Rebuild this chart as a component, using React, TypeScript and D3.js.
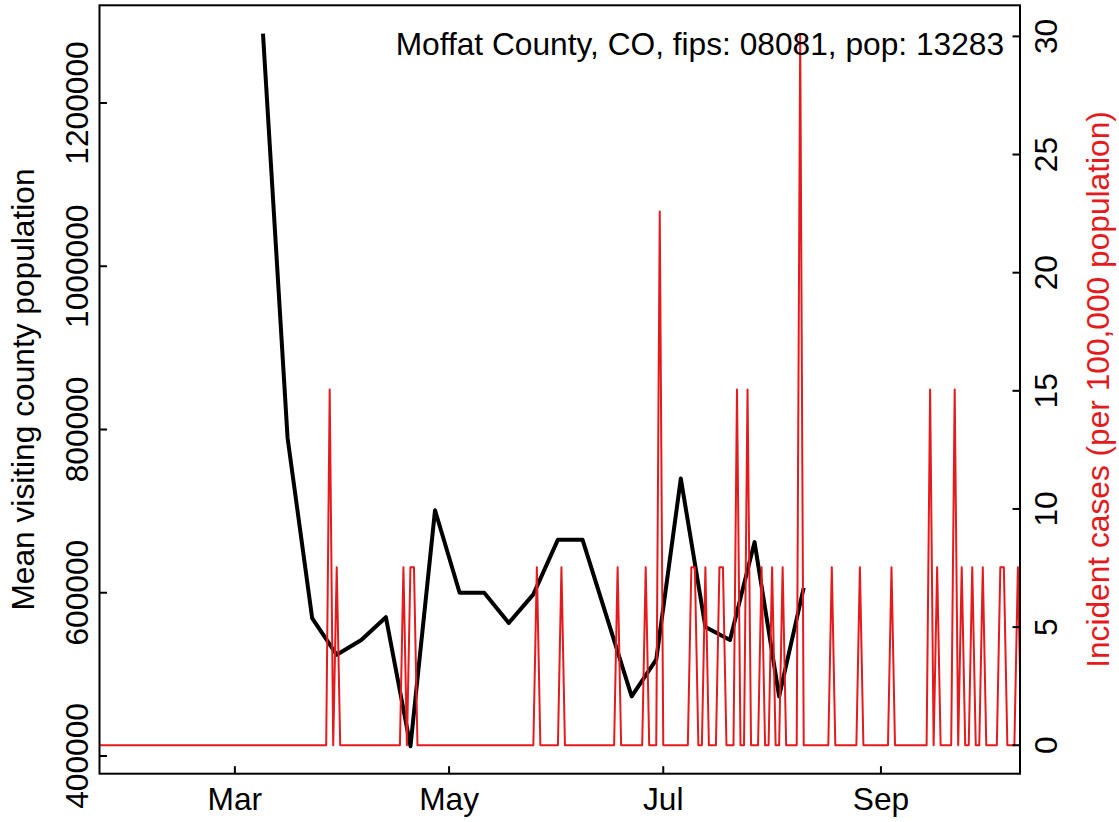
import React, { useEffect, useRef } from 'react';
import * as d3 from 'd3';

// weekly mean visiting county population (black line)
const visitWeeks = [
  "2020-03-09", "2020-03-16", "2020-03-23", "2020-03-30", "2020-04-06", "2020-04-13",
  "2020-04-20", "2020-04-27", "2020-05-04", "2020-05-11", "2020-05-18", "2020-05-25",
  "2020-06-01", "2020-06-08", "2020-06-22", "2020-06-29", "2020-07-06", "2020-07-13",
  "2020-07-20", "2020-07-27", "2020-08-03", "2020-08-10"
];
const visitPop = [
  1285000, 790000, 569000, 524000, 542000, 570000,
  412000, 701000, 600000, 600000, 563000, 598000,
  665000, 665000, 473000, 518000, 740000, 558000,
  542000, 662000, 473000, 606000
];

// daily incident case counts, one digit per day, starting 2020-01-22
const caseStart = "2020-01-22";
const dailyCases = [
  "0000000000",                       // Jan 22-31
  "00000000000000000000000000000",    // Feb
  "0000000000000000000000000002010",  // Mar
  "000000000000000001011000000000",   // Apr
  "0000000000000000000000000100000",  // May
  "010000000000000001000000010003",   // Jun
  "0000000011001000110002002000100",  // Jul
  "1001000040000000010000000100000",  // Aug
  "000100000000002010000201001001",   // Sep
  "00001100010"                       // Oct 1-11
].join("");
const population = 13283;

const leftTicks = [400000, 600000, 800000, 1000000, 1200000];
const rightTicks = [0, 5, 10, 15, 20, 25, 30];
const monthTicks = ["2020-03-01", "2020-05-01", "2020-07-01", "2020-09-01"];
const monthLabels = ["Mar", "May", "Jul", "Sep"];

const title = "Moffat County, CO, fips: 08081, pop: 13283";
const leftTitle = "Mean visiting county population";
const rightTitle = "Incident cases (per 100,000 population)";

const parse = d3.timeParse("%Y-%m-%d");

const App: React.FC = () => {
  const ref = useRef<SVGSVGElement | null>(null);

  useEffect(() => {
    if (!ref.current) return;
    const width = 1119;
    const height = 822;
    const box = { left: 99.5, right: 1020, top: 5.3, bottom: 773.7 };
    const red = "#e41a1c";
    const font = "'Liberation Sans', Arial, Helvetica, sans-serif";
    const fs = 31.7;
    const tick = 7.5;

    const svg = d3.select(ref.current)
      .attr("width", width)
      .attr("height", height);
    svg.selectAll("*").remove();

    const x = d3.scaleTime()
      .domain([new Date(2020, 0, 22, 10, 34), new Date(2020, 9, 10, 14, 24)])
      .range([box.left, box.right]);
    const yLeft = d3.scaleLinear().domain([378300, 1319700]).range([box.bottom, box.top]);
    const yRight = d3.scaleLinear().domain([-1.2044, 31.316]).range([box.bottom, box.top]);

    svg.append("defs").append("clipPath").attr("id", "plotclip")
      .append("rect")
      .attr("x", box.left).attr("y", box.top)
      .attr("width", box.right - box.left).attr("height", box.bottom - box.top);

    const start = parse(caseStart) as Date;
    const cases = dailyCases.split("").map((c, i) => ({
      date: d3.timeDay.offset(start, i),
      value: (+c) * 100000 / population
    }));
    const visits = visitWeeks.map((d, i) => ({ date: parse(d) as Date, value: visitPop[i] }));

    // black line
    svg.append("path")
      .datum(visits)
      .attr("fill", "none")
      .attr("stroke", "#000")
      .attr("stroke-width", 4)
      .attr("stroke-linejoin", "round")
      .attr("d", d3.line<any>().x(d => x(d.date)).y(d => yLeft(d.value)));

    // red line
    svg.append("path")
      .datum(cases)
      .attr("clip-path", "url(#plotclip)")
      .attr("fill", "none")
      .attr("stroke", red)
      .attr("stroke-width", 2)
      .attr("stroke-linejoin", "round")
      .attr("d", d3.line<any>().x(d => x(d.date)).y(d => yRight(d.value)));

    // frame
    svg.append("rect")
      .attr("x", box.left).attr("y", box.top)
      .attr("width", box.right - box.left).attr("height", box.bottom - box.top)
      .attr("fill", "none").attr("stroke", "#000").attr("stroke-width", 2);

    // left axis
    leftTicks.forEach(v => {
      const yy = yLeft(v);
      svg.append("line")
        .attr("x1", box.left).attr("x2", box.left + tick)
        .attr("y1", yy).attr("y2", yy)
        .attr("stroke", "#000").attr("stroke-width", 2);
      svg.append("text")
        .attr("transform", `translate(88,${yy}) rotate(-90)`)
        .attr("text-anchor", "middle")
        .attr("font-family", font).attr("font-size", fs)
        .text(String(v));
    });

    // right axis
    rightTicks.forEach(v => {
      const yy = yRight(v);
      svg.append("line")
        .attr("x1", box.right - tick).attr("x2", box.right)
        .attr("y1", yy).attr("y2", yy)
        .attr("stroke", "#000").attr("stroke-width", 2);
      svg.append("text")
        .attr("transform", `translate(1057,${yy}) rotate(-90)`)
        .attr("text-anchor", "middle")
        .attr("font-family", font).attr("font-size", fs)
        .text(String(v));
    });

    // bottom axis
    monthTicks.forEach((m, i) => {
      const xx = x(parse(m) as Date);
      svg.append("line")
        .attr("x1", xx).attr("x2", xx)
        .attr("y1", box.bottom - tick).attr("y2", box.bottom)
        .attr("stroke", "#000").attr("stroke-width", 2);
      svg.append("text")
        .attr("x", xx).attr("y", 810)
        .attr("text-anchor", "middle")
        .attr("font-family", font).attr("font-size", fs)
        .text(monthLabels[i]);
    });

    const midY = (box.top + box.bottom) / 2;
    svg.append("text")
      .attr("transform", `translate(33.5,${midY}) rotate(-90)`)
      .attr("text-anchor", "middle")
      .attr("font-family", font).attr("font-size", fs)
      .text(leftTitle);

    svg.append("text")
      .attr("transform", `translate(1109,${midY}) rotate(-90)`)
      .attr("text-anchor", "middle")
      .attr("font-family", font).attr("font-size", fs)
      .attr("fill", red)
      .text(rightTitle);

    svg.append("text")
      .attr("x", 1004).attr("y", 55)
      .attr("text-anchor", "end")
      .attr("font-family", font).attr("font-size", fs)
      .text(title);
  }, []);

  return <svg ref={ref} style={{ position: 'absolute', left: 0, top: 0, background: '#fff' }}></svg>;
};

export default App;
